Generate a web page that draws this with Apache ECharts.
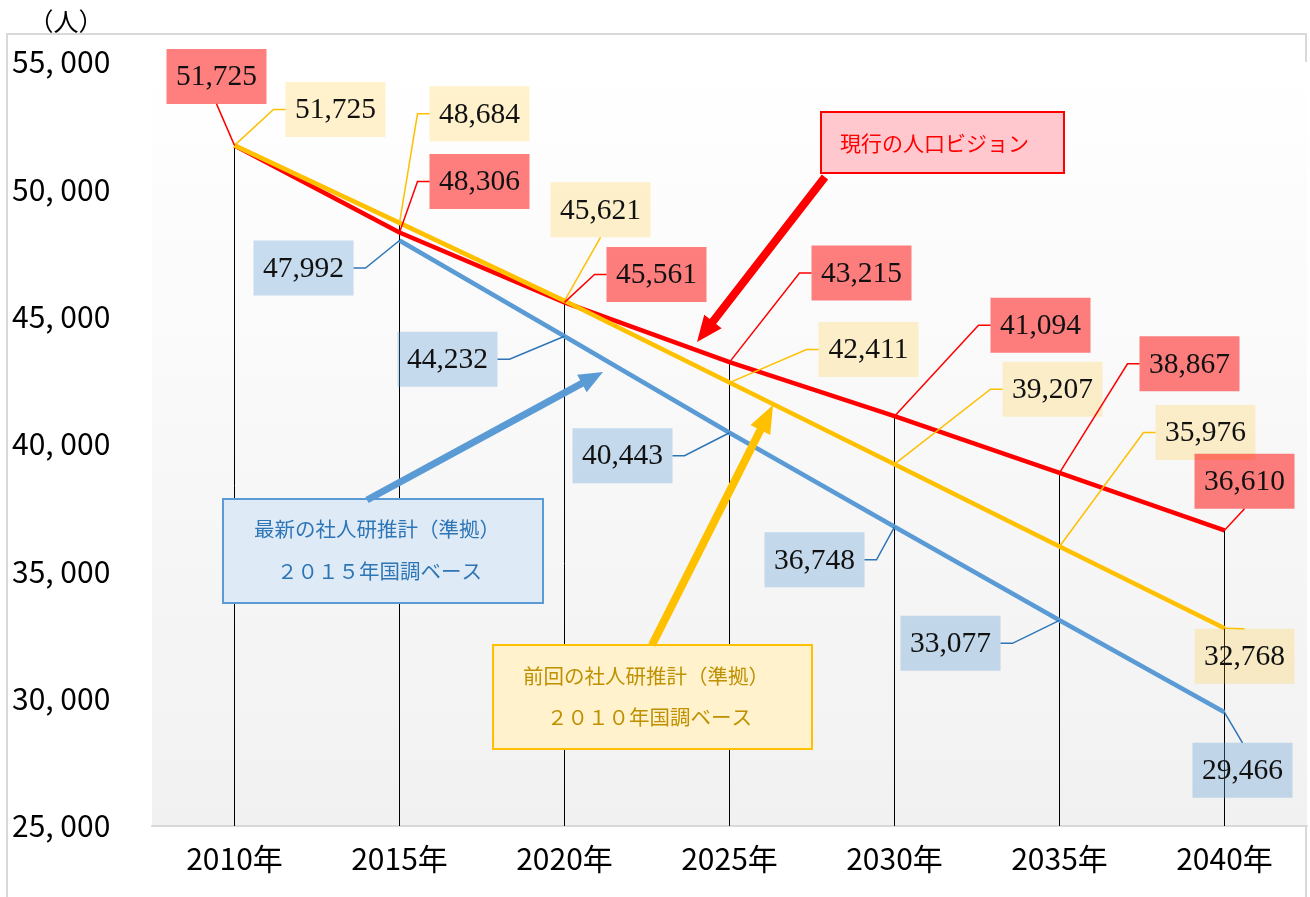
<!DOCTYPE html>
<html><head><meta charset="utf-8">
<script src="https://cdn.jsdelivr.net/npm/echarts@6/dist/echarts.min.js"></script>
<style>html,body{margin:0;padding:0;background:#fff}#c{width:1310px;height:897px}</style>
</head><body><div id="c"></div>
<script>
// ---- data ----
var categories = ['2010年','2015年','2020年','2025年','2030年','2035年','2040年'];
var currentVision = [51725, 48306, 45561, 43215, 41094, 38867, 36610];   // 現行の人口ビジョン
var previousEst   = [51725, 48684, 45621, 42411, 39207, 35976, 32768];   // 前回の社人研推計
var latestEst     = [null, 47992, 44232, 40443, 36748, 33077, 29466];    // 最新の社人研推計
var yTicks = [25000, 30000, 35000, 40000, 45000, 50000, 55000];

// ---- label placement (style only) ----
var redOff = [[-18,-69,'v'],[80,-51,'r'],[92,-28,'r'],[132,-89,'r'],[146,-91,'r'],[130,-109,'r'],[20,-49,'v']];
var yelOff = [[101,-36,'r'],[80,-109,'r'],[36,-91,'v'],[139,-33,'r'],[158,-75,'r'],[146,-114,'r'],[20,28,'v']];
var bluOff = [null,[-96,27.5,'l'],[-117,23,'l'],[-107,23,'l'],[-80,33,'l'],[-109,23,'l'],[18,58,'v']];

var chart = echarts.init(document.getElementById('c'), null, {renderer:'canvas'});
var BW = 100, BH = 55, GAP = 12;

function fmt(v){ return v.toLocaleString('en-US'); }

function labelSeries(values, offs, fill, lineColor, z){
  var data = [];
  values.forEach(function(v,i){ if(v!=null) data.push([i, v]); });
  return {
    type:'custom', z:z, clip:false, silent:true,
    data:data,
    renderItem:function(params, api){
      var i = api.value(0), v = api.value(1);
      var p = api.coord([i, v]);
      var o = offs[i];
      var cx = p[0]+o[0], cy = p[1]+o[1];
      var x0 = cx-BW/2, y0 = cy-BH/2;
      var pts;
      if(o[2]==='r') pts=[p,[x0-GAP,cy],[x0,cy]];
      else if(o[2]==='l') pts=[p,[x0+BW+GAP,cy],[x0+BW,cy]];
      else pts=[p,[cx, o[1]<0 ? y0+BH : y0]];
      return {type:'group', children:[
        {type:'polyline', shape:{points:pts}, style:{stroke:lineColor, lineWidth:1.5, fill:null}},
        {type:'rect', shape:{x:x0,y:y0,width:BW,height:BH}, style:{fill:fill}},
        {type:'text', style:{text:fmt(v), x:cx, y:cy+1, align:'center', verticalAlign:'middle',
          font:'29.5px "Liberation Serif", "DejaVu Serif", serif', fill:'#111'}}
      ]};
    }
  };
}

function arrow(x1,y1,x2,y2,w,hl,hw,color){
  var dx=x2-x1, dy=y2-y1, L=Math.sqrt(dx*dx+dy*dy);
  var ux=dx/L, uy=dy/L, nx=-uy, ny=ux;
  var bx=x2-ux*hl, by=y2-uy*hl;
  var pts=[[x1+nx*w/2,y1+ny*w/2],[bx+nx*w/2,by+ny*w/2],[bx+nx*hw/2,by+ny*hw/2],[x2,y2],
           [bx-nx*hw/2,by-ny*hw/2],[bx-nx*w/2,by-ny*w/2],[x1-nx*w/2,y1-ny*w/2]];
  return {type:'polygon', z:20, shape:{points:pts}, style:{fill:color}};
}

var maxVals = categories.map(function(c,i){
  return Math.max(currentVision[i], previousEst[i], latestEst[i]==null?-Infinity:latestEst[i]);
});

var jp = '"Noto Sans CJK JP", "Noto Sans", sans-serif';

var option = {
  animation:false,
  backgroundColor:'#fff',
  grid:{left:152, right:3, top:62, bottom:71, show:true, borderWidth:0,
    backgroundColor:new echarts.graphic.LinearGradient(0,0,0,1,[{offset:0,color:'#ffffff'},{offset:1,color:'#f1f1f1'}])},
  xAxis:{type:'category', data:categories, boundaryGap:true,
    axisLine:{show:true, lineStyle:{color:'#d9d9d9', width:2}},
    axisTick:{show:false},
    axisLabel:{color:'#000', fontSize:30, fontFamily:jp, margin:18}},
  yAxis:{type:'value', min:25000, max:55000, interval:5000,
    axisLine:{show:false}, axisTick:{show:false}, splitLine:{show:false},
    axisLabel:{color:'#000', fontSize:30, fontFamily:jp, align:'left', margin:140,
      formatter:function(v){ return yTicks.indexOf(v)>=0 ? fmt(v).replace(',', ', ') : ''; }}},
  graphic:[
    {type:'rect', z:-10, silent:true, shape:{x:7,y:34,width:1299,height:880}, style:{fill:null, stroke:'#d9d9d9', lineWidth:2}},
    {type:'text', z:20, style:{text:'（人）', x:66, y:21, align:'center', verticalAlign:'middle', font:'25px '+jp, fill:'#000'}},
    // 現行
    {type:'rect', z:20, shape:{x:821,y:112,width:243,height:61}, style:{fill:'#ffc7ce', stroke:'#ff0000', lineWidth:2}},
    {type:'text', z:21, style:{text:'現行の人口ビジョン', x:840, y:143, verticalAlign:'middle', font:'21px '+jp, fill:'#ff0000'}},
    arrow(825,177,697,342,8,26,22,'#ff0000'),
    // 最新
    {type:'rect', z:20, shape:{x:223,y:499,width:320,height:104}, style:{fill:'#deebf7', stroke:'#5b9bd5', lineWidth:2}},
    {type:'text', z:21, style:{text:'最新の社人研推計（準拠）', x:254, y:529, verticalAlign:'middle', font:'20.5px '+jp, fill:'#2e75b6'}},
    {type:'text', z:21, style:{text:'２０１５年国調ベース', x:277, y:571, verticalAlign:'middle', font:'20.5px '+jp, fill:'#2e75b6'}},
    arrow(367,500,603,372,7,24,20,'#5b9bd5'),
    // 前回
    {type:'rect', z:20, shape:{x:493,y:645,width:319,height:104}, style:{fill:'#fff2cc', stroke:'#ffc000', lineWidth:2}},
    {type:'text', z:21, style:{text:'前回の社人研推計（準拠）', x:523, y:676, verticalAlign:'middle', font:'20.5px '+jp, fill:'#bf9000'}},
    {type:'text', z:21, style:{text:'２０１０年国調ベース', x:547, y:717, verticalAlign:'middle', font:'20.5px '+jp, fill:'#bf9000'}},
    arrow(652,645,773,405,8,28,22,'#ffc000')
  ],
  series:[
    {type:'custom', z:1, silent:true, clip:false,
      data:maxVals.map(function(v,i){return [i,v];}),
      renderItem:function(params, api){
        var top = api.coord([api.value(0), api.value(1)]);
        var bot = api.coord([api.value(0), 25000]);
        return {type:'line', shape:{x1:top[0],y1:top[1],x2:bot[0],y2:bot[1]}, style:{stroke:'#000', lineWidth:1}};
      }},
    {name:'最新の社人研推計', type:'line', z:2, data:latestEst, symbol:'none', lineStyle:{color:'#5b9bd5', width:4.5}},
    {name:'現行の人口ビジョン', type:'line', z:3, data:currentVision, symbol:'none', lineStyle:{color:'#ff0000', width:4.5}},
    {name:'前回の社人研推計', type:'line', z:4, data:previousEst, symbol:'none', lineStyle:{color:'#ffc000', width:4.5}},
    labelSeries(latestEst, bluOff, 'rgba(91,155,213,0.33)', '#2e75b6', 5),
    labelSeries(previousEst, yelOff, 'rgba(255,192,0,0.2)', '#ffc000', 6),
    labelSeries(currentVision, redOff, 'rgba(255,0,0,0.5)', '#ff0000', 7)
  ]
};
chart.setOption(option);
</script></body></html>
